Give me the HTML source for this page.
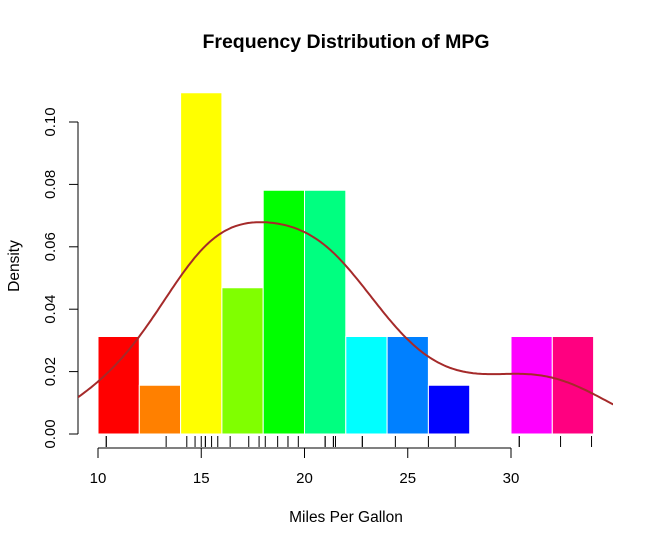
<!DOCTYPE html>
<html><head><meta charset="utf-8"><style>
body{margin:0;background:#fff}
svg text{font-family:"Liberation Sans",Arial,sans-serif}
</style></head><body>
<svg id="c" width="654" height="546" viewBox="0 0 654 546">
<text x="346" y="48" text-anchor="middle" font-size="19.5" font-weight="bold">Frequency Distribution of MPG</text>
<text x="346" y="522" text-anchor="middle" font-size="15.5">Miles Per Gallon</text>
<text transform="translate(19,266) rotate(-90)" text-anchor="middle" font-size="15.5">Density</text>
<g id="bars"></g><g id="rug"></g><g id="axes"></g>
<defs><clipPath id="pc"><rect x="78" y="79" width="535" height="369"/></clipPath></defs>
<path id="kde" fill="none" stroke="#A52A2A" stroke-width="2" clip-path="url(#pc)"/>
</svg>
<script>
const breaks=[10,12,14,16,18,20,22,24,26,28,30,32,34];
const counts=[2,1,7,3,5,5,2,2,1,0,2,2];
const colors=["#FF0000","#FF8000","#FFFF00","#80FF00","#00FF00","#00FF80","#00FFFF","#0080FF","#0000FF","#8000FF","#FF00FF","#FF0080"];
const mpg=[21,21,22.8,21.4,18.7,18.1,14.3,24.4,22.8,19.2,17.8,16.4,17.3,15.2,10.4,10.4,14.7,32.4,30.4,33.9,21.5,15.5,15.2,13.3,19.2,27.3,26,30.4,15.8,19.7,15,21.4];
const xTicks=[10,15,20,25,30];
const yTicks=[0,0.02,0.04,0.06,0.08,0.10];
const yLabels=["0.00","0.02","0.04","0.06","0.08","0.10"];
const X=v=>98+(v-10)*20.65, Y=v=>434-v*3120;
const NS="http://www.w3.org/2000/svg";
function mk(t,a,p){const e=document.createElementNS(NS,t);for(const k in a)e.setAttribute(k,a[k]);p.appendChild(e);return e;}
const bars=document.getElementById('bars'),rug=document.getElementById('rug'),axes=document.getElementById('axes');
const n=mpg.length;
counts.forEach((c,i)=>{if(!c)return;const d=c/(n*(breaks[i+1]-breaks[i]));
const r=mk('rect',{x:X(breaks[i]),y:Y(d),width:X(breaks[i+1])-X(breaks[i]),height:Y(0)-Y(d),fill:colors[i],stroke:'#fff','stroke-width':1},bars);

});
mpg.forEach(v=>{const l=mk('line',{x1:X(v),x2:X(v),y1:436,y2:447,stroke:'#000','stroke-width':1},rug);

});
let l=mk('line',{x1:X(10),x2:X(30),y1:448,y2:448,stroke:'#000'},axes);


xTicks.forEach(v=>{mk('line',{x1:X(v),x2:X(v),y1:448,y2:458,stroke:'#000'},axes);
const t=mk('text',{x:X(v),y:483,'text-anchor':'middle','font-size':15},axes);t.textContent=v;

});
l=mk('line',{x1:78,x2:78,y1:Y(0),y2:Y(0.1),stroke:'#000'},axes);


yTicks.forEach((v,i)=>{mk('line',{x1:69,x2:78,y1:Y(v),y2:Y(v),stroke:'#000'},axes);
const t=mk('text',{transform:`translate(55,${Y(v)}) rotate(-90)`,'text-anchor':'middle','font-size':15},axes);t.textContent=yLabels[i];

});
const s=[...mpg].sort((a,b)=>a-b),mean=s.reduce((a,b)=>a+b)/n;
const sd=Math.sqrt(s.reduce((a,b)=>a+(b-mean)**2,0)/(n-1));
const q=p=>{const h=(n-1)*p,lo=Math.floor(h);return s[lo]+(h-lo)*(s[Math.min(lo+1,n-1)]-s[lo]);};
const bw=0.9*Math.min(sd,(q(.75)-q(.25))/1.34)*Math.pow(n,-0.2);
let d='';for(let x=s[0]-3*bw;x<=s[n-1]+3*bw;x+=0.1){let f=0;mpg.forEach(v=>f+=Math.exp(-0.5*((x-v)/bw)**2));f/=n*bw*Math.sqrt(2*Math.PI);
d+=(d?'L':'M')+X(x).toFixed(1)+','+Y(f).toFixed(1);}
document.getElementById('kde').setAttribute('d',d);
</script>
</body></html>
